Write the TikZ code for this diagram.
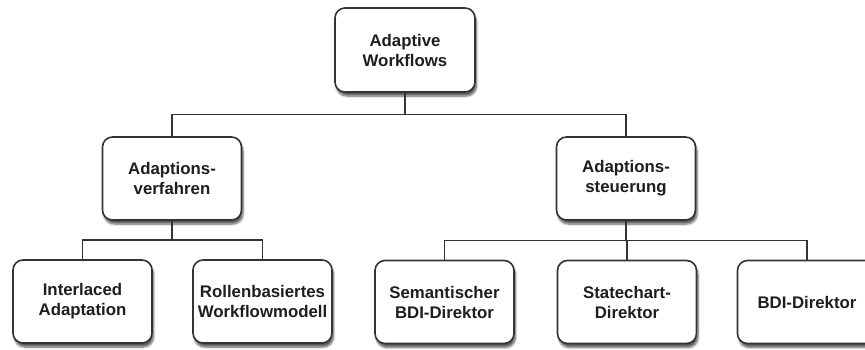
\documentclass[tikz,border=0pt]{standalone}
\usepackage{fontspec}
\setmainfont{Liberation Sans}
\usetikzlibrary{calc,shadows.blur}
\definecolor{ink}{HTML}{1E1E1E}
\definecolor{rim}{HTML}{333333}
\tikzset{
  box/.style={draw=rim,line width=1.6pt,fill=white,rounded corners=10pt,
    minimum width=139pt,minimum height=83pt,align=center,inner sep=2pt,
    text=ink,font=\fontsize{16.8}{20}\selectfont\bfseries,
    blur shadow={shadow xshift=1.5pt,shadow yshift=-4pt,shadow opacity=65,shadow blur steps=6}},
  link/.style={rim,line width=1.1pt},
  branch/.style={to path={(\tikztostart) |- ($(\tikztostart)!.5!(\tikztotarget)$) -| (\tikztotarget)}},
}

\begin{document}
\begin{tikzpicture}[x=1pt,y=-1pt]
\useasboundingbox (0,0) rectangle (865,349);

% ---------------------------------------------------------------- root
\node[box,minimum width=140pt,minimum height=84pt] (wf) at (405,50) {Adaptive\\Workflows};

% ---------------------------------------------------------------- second level
\node[box] (verf) at (172,178.5) {Adaptions-\\verfahren};
\node[box] (steu) at (626,178.5) {Adaptions-\\steuerung};

% ---------------------------------------------------------------- leaves
\node[box] (inter) at (82.5,301.5) {Interlaced\\Adaptation};
\node[box] (rolle) at (262.5,301.5) {Rollenbasiertes\\Workflowmodell};
\node[box] (sem)   at (444.5,302) {Semantischer\\BDI-Direktor};
\node[box] (state) at (627,302) {Statechart-\\Direktor};
\node[box] (bdi)   at (807,302) {BDI-Direktor};

% ---------------------------------------------------------------- connectors
\draw[link] (wf.south) to[branch] (verf.north);
\draw[link] (wf.south) to[branch] (steu.north);
\draw[link] (verf.south) to[branch] (inter.north);
\draw[link] (verf.south) to[branch] (rolle.north);
\draw[link] (steu.south) to[branch] (sem.north);
\draw[link] (steu.south) to[branch] (state.north);
\draw[link] (steu.south) to[branch] (bdi.north);

\end{tikzpicture}
\end{document}
